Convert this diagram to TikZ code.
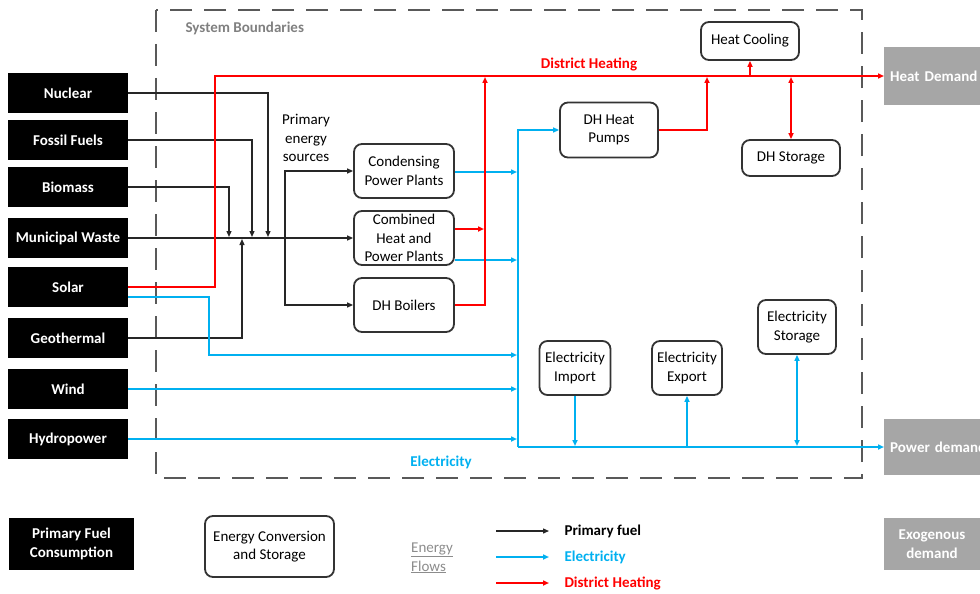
\documentclass[tikz,border=0pt]{standalone}
\usepackage{fontspec}
\setmainfont{Carlito}
\usetikzlibrary{arrows.meta,calc}
\definecolor{elec}{HTML}{00B0F0}
\definecolor{dh}{HTML}{FF0000}
\definecolor{dem}{HTML}{A6A6A6}
\definecolor{bnd}{HTML}{595959}
\begin{document}
\begin{tikzpicture}[x=1pt,y=-1pt,
  font=\fontsize{15}{18.5}\selectfont,
  >={Triangle[length=6pt,width=5pt]},
  src/.style={fill=black, text=white, font=\fontsize{15}{18.5}\selectfont\bfseries, minimum width=120, minimum height=40, inner sep=0, align=center},
  conv/.style={draw=black!80, line width=1.8pt, rounded corners=8pt, fill=white, text=black, align=center, inner sep=0},
  demand/.style={fill=dem, text=white, font=\fontsize{15}{18.5}\selectfont\bfseries, inner sep=0},
  fline/.style={line width=1.3pt, draw=black!85},
  eline/.style={line width=2pt, draw=elec},
  hline/.style={line width=1.6pt, draw=dh},
]
\useasboundingbox (0,0) rectangle (980,594);

% system boundary
\draw[bnd, line width=2.5pt, dash pattern=on 22pt off 12pt] (156,10) rectangle (862,478);
\node[anchor=west, text=black!50, font=\fontsize{15}{18.5}\selectfont\bfseries] (sbl) at (182,28) {System Boundaries};

% sources
\node[src] (nuc) at (68,93) {Nuclear};
\node[src] (ff) at (68,140) {Fossil Fuels};
\node[src] (bio) at (68,187) {Biomass};
\node[src] (mw) at (68,238) {Municipal Waste};
\node[src] (sol) at (68,287) {Solar};
\node[src] (geo) at (68,338) {Geothermal};
\node[src] (wind) at (68,389) {Wind};
\node[src] (hyd) at (68,439) {Hydropower};

% conversion boxes
\node[conv, minimum width=100, minimum height=54] (cond) at (404,171) {Condensing\\Power Plants};
\node[conv, minimum width=100, minimum height=54] (chp) at (404,238) {Combined\\Heat and\\Power Plants};
\node[conv, minimum width=100, minimum height=54] (dhb) at (404,305) {DH Boilers};
\node[conv, minimum width=98, minimum height=55] (hp) at (609,130) {DH Heat\\Pumps};
\node[conv, minimum width=98, minimum height=38] (hc) at (750,41) {Heat Cooling};
\node[conv, minimum width=98, minimum height=36] (ds) at (791,158) {DH Storage};
\node[conv, minimum width=71, minimum height=54] (ei) at (575,368) {Electricity\\Import};
\node[conv, minimum width=70, minimum height=54] (ee) at (687,368) {Electricity\\Export};
\node[conv, minimum width=78, minimum height=54] (es) at (797,327) {Electricity\\Storage};

% demands
\node[demand, anchor=west, text width=110, align=left, inner xsep=6, minimum height=57] (hd) at (884,76) {Heat Demand};
\node[demand, anchor=west, text width=110, align=left, inner xsep=6, minimum height=56] (pd) at (884,447) {Power demand};

% labels
\node[align=center] (pes) at (306,138) {Primary\\energy\\sources};
\node[text=dh, font=\fontsize{15}{18.5}\selectfont\bfseries] (dhl) at (589,64) {District Heating};
\node[text=elec, font=\fontsize{15}{18.5}\selectfont\bfseries] (ell) at (441,462) {Electricity};

% primary fuel flows
\coordinate (jn) at (268,238);
\coordinate (jf) at (252,238);
\coordinate (jb) at (229,238);
\coordinate (jg) at (242,238);
\coordinate (jp) at (285,238);
\draw[fline,->,shorten >=1pt] (nuc.east) -| (jn);
\draw[fline,->,shorten >=1pt] (ff.east) -| (jf);
\draw[fline,->,shorten >=1pt] (bio.east) -| (jb);
\draw[fline,->,shorten >=1pt] (geo.east) -| (jg);
\draw[fline,->] (mw.east) -- (chp.west);
\draw[fline,->] (jp) |- (cond.west);
\draw[fline,->] (jp) |- (dhb.west);

% electricity flows
\coordinate (bt) at (518,130);
\coordinate (bb) at (518,447);
\coordinate (sbs) at ($(sol.east)+(0,10)$);
\coordinate (sbc) at (209,355);
\draw[eline,->] (bb) -- (bt) -- (hp.west);
\draw[eline,->] (bb) -- (pd.west);
\draw[eline,->,shorten >=1pt] (sbs) -| (sbc) -- (sbc -| bt);
\draw[eline,->,shorten >=1pt] (wind.east) -- (wind.east -| bt);
\draw[eline,->,shorten >=1pt] (hyd.east) -- (hyd.east -| bt);
\coordinate (cdb) at ($(cond.east)+(0,1)$);
\draw[eline,->,shorten >=1pt] (cdb) -- (cdb -| bt);
\coordinate (chb) at ($(chp.east)+(0,22)$);
\draw[eline,->,shorten >=1pt] (chb) -- (chb -| bt);
\coordinate (eib) at (575,447);
\coordinate (eeb) at (687,447);
\coordinate (esb) at (797,447);
\draw[eline,->,shorten >=1pt] (ei.south) -- (eib);
\draw[eline,->] (eeb) -- (ee.south);
\draw[eline,<->,shorten <=1pt] (esb) -- (es.south);

% district heating flows
\coordinate (rc) at (215,76);
\coordinate (rt) at (485,76);
\coordinate (chr) at ($(chp.east)+(0,-9)$);
\coordinate (hpr) at (707,76);
\coordinate (hcb) at (750,76);
\coordinate (dst) at (791,76);
\draw[hline,->] (sol.east) -| (rc) -- (hd.west);
\draw[hline,->,shorten >=1pt] (dhb.east) -| (rt);
\draw[hline,->,shorten >=1pt] (chr) -- (chr -| rt);
\draw[hline,->,shorten >=1pt] (hp.east) -| (hpr);
\draw[hline,->] (hcb) -- (hc.south);
\draw[hline,<->,shorten <=1pt] (dst) -- (ds.north);

% legend
\node[src, minimum width=125, minimum height=52] (lsrc) at (71.5,544) {Primary Fuel\\Consumption};
\node[conv, minimum width=129, minimum height=61] (lconv) at (269.5,546.5) {Energy Conversion\\and Storage};
\node[text=black!45, align=left] (lef) at (432,558) {\underline{Energy}\\\underline{Flows}};
\node[demand, minimum width=96, minimum height=52, align=center] (lexo) at (932,544) {Exogenous\\demand};
\coordinate (lf1) at (496,531);
\coordinate (lf2) at (549,531);
\coordinate (le1) at (496,557);
\coordinate (le2) at (549,557);
\coordinate (lh1) at (496,583);
\coordinate (lh2) at (549,583);
\draw[fline,->] (lf1) -- (lf2);
\draw[eline,->] (le1) -- (le2);
\draw[hline,->] (lh1) -- (lh2);
\node[anchor=west, font=\fontsize{15}{18.5}\selectfont\bfseries] (lt1) at (561,531) {Primary fuel};
\node[anchor=west, text=elec, font=\fontsize{15}{18.5}\selectfont\bfseries] (lt2) at (561,557) {Electricity};
\node[anchor=west, text=dh, font=\fontsize{15}{18.5}\selectfont\bfseries] (lt3) at (561,583) {District Heating};
\end{tikzpicture}
\end{document}
